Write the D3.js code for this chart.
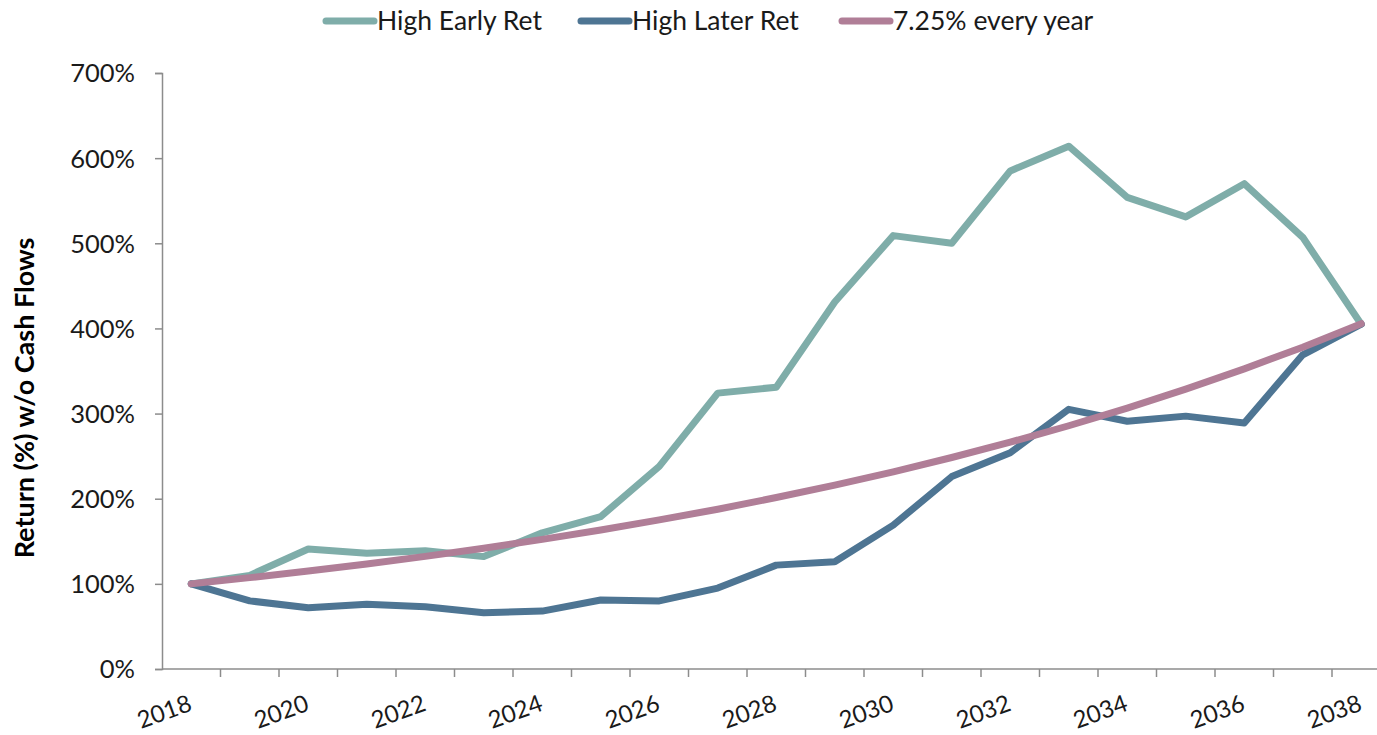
<!DOCTYPE html>
<html><head><meta charset="utf-8">
<script src="https://cdn.jsdelivr.net/npm/d3@7"></script>
<style>
html,body{margin:0;padding:0;background:#fff;}
svg{display:block;font-family:Lato, "Open Sans", sans-serif;}
</style></head>
<body>
<svg id="chart" width="1377" height="735"></svg>
<script>
const years = [2018,2019,2020,2021,2022,2023,2024,2025,2026,2027,2028,2029,2030,2031,2032,2033,2034,2035,2036,2037,2038];
const highEarly = [100,110,141,136,139,132,160,179,238,324,331,431,509,500,585,614,554,531,570,507,405];
const highLater = [100,80,72,76,73,66,68,81,80,95,122,126,169,226,254,305,291,297,289,369,405];
const steady = [100,107.3,115.0,123.4,132.3,141.9,152.2,163.2,175.1,187.7,201.4,216.0,231.6,248.4,266.4,285.7,306.4,328.7,352.5,378.0,405.5];
const yTicks = [0,100,200,300,400,500,600,700];
const xLabels = [2018,2020,2022,2024,2026,2028,2030,2032,2034,2036,2038];
const seriesNames = ["High Early Ret","High Later Ret","7.25% every year"];
const colors = ["#7fada9","#4e7593","#b07e97"];

(function(){
const svg = d3.select("#chart");
const pL = 162, pR = 1390.5, pT = 73, pB = 669;
const x = d3.scaleBand().domain(years).range([pL, pR]).paddingInner(0).paddingOuter(0);
const y = d3.scaleLinear().domain([0,700]).range([pB, pT]);
const cx = d => x(d) + x.bandwidth()/2;
const axisColor = "#8c8c8c";
const textColor = "#1a1a1a";

// Y axis
const yAxis = d3.axisLeft(y).tickValues(yTicks).tickFormat(d => d + "%").tickSize(7).tickPadding(20);
const gy = svg.append("g").attr("transform", `translate(${pL},0)`).call(yAxis);
gy.select(".domain").attr("stroke", axisColor).attr("stroke-width", 1.5);
gy.selectAll(".tick line").attr("stroke", axisColor).attr("stroke-width", 1.5);
gy.selectAll(".tick text").attr("fill", textColor).style("font-size", "25.5px").style("font-family", "Lato, sans-serif").attr("dy", "0.35em");

// X axis
const gx = svg.append("g");
gx.append("line").attr("x1", pL).attr("x2", pR).attr("y1", pB).attr("y2", pB)
  .attr("stroke", axisColor).attr("stroke-width", 1.5);
gx.selectAll("line.tick").data(years.slice(1)).enter().append("line").attr("class","tick")
  .attr("x1", d => x(d)).attr("x2", d => x(d)).attr("y1", pB).attr("y2", pB + 8)
  .attr("stroke", axisColor).attr("stroke-width", 1.5);
gx.selectAll("text").data(xLabels).enter().append("text")
  .attr("transform", d => `translate(${cx(d) + 2},${pB + 41}) rotate(-20)`)
  .attr("text-anchor", "end").attr("fill", textColor).style("font-size", "24px").text(d => d);

// Y title
svg.append("text").attr("transform", `translate(34,398) rotate(-90)`).attr("text-anchor","middle")
  .attr("fill", "#000").style("font-size","27px").style("font-weight","bold").text("Return (%) w/o Cash Flows");

// Lines
const line = d3.line().x((d,i) => cx(years[i])).y(d => y(d));
[highEarly, highLater, steady].forEach((s,k) => {
  svg.append("path").datum(s).attr("d", line).attr("fill","none").attr("stroke", colors[k])
    .attr("stroke-width", 7).attr("stroke-linejoin","round").attr("stroke-linecap","round");
});

// Legend
const legX = [326, 581, 842];
seriesNames.forEach((n,k) => {
  const g = svg.append("g").attr("transform", `translate(${legX[k]},21)`);
  g.append("line").attr("x1",0).attr("x2",48).attr("y1",0).attr("y2",0).attr("stroke",colors[k])
    .attr("stroke-width",7).attr("stroke-linecap","round");
  g.append("text").attr("x",51).attr("y",9).attr("fill",textColor).style("font-size","26.5px").text(n);
});
})();
</script>
</body></html>
